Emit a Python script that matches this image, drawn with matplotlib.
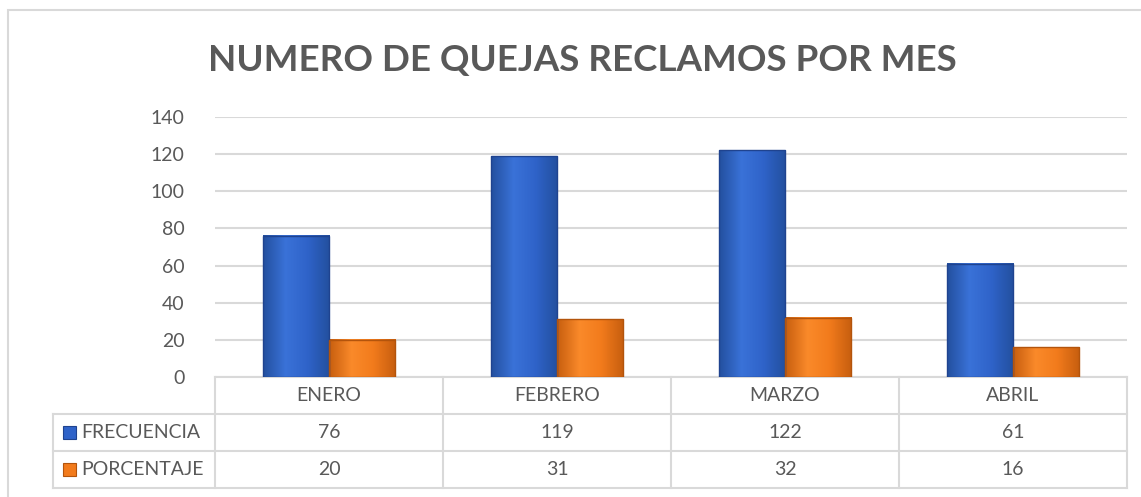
import numpy as np
import matplotlib
matplotlib.use('Agg')
import matplotlib.pyplot as plt
from matplotlib.transforms import blended_transform_factory
from matplotlib.patches import Rectangle
from matplotlib.colors import LinearSegmentedColormap

plt.rcParams['font.family'] = ['Lato', 'DejaVu Sans']

months = ['ENERO', 'FEBRERO', 'MARZO', 'ABRIL']
frecuencia = [76, 119, 122, 61]
porcentaje = [20, 31, 32, 16]
series_names = ['FRECUENCIA', 'PORCENTAJE']

W, H = 1141, 497
fig = plt.figure(figsize=(W / 100, H / 100), dpi=100)

# axes box in pixels
x0, x1 = 215, 1127
y_top, y_zero = 117, 377
ax = fig.add_axes([x0 / W, 1 - y_zero / H, (x1 - x0) / W, (y_zero - y_top) / H])

blue = '#2f63c9'
blue_edge = '#1f438f'
orange = '#f27b1c'
orange_edge = '#b3540c'
grid_c = '#d9d9d9'
text_c = '#595959'

blue_cmap = LinearSegmentedColormap.from_list('b', ['#23509f', '#3a72d8', '#2f63c9', '#23509f'])
orange_cmap = LinearSegmentedColormap.from_list('o', ['#c75e0f', '#fa8a2a', '#f27b1c', '#c75e0f'])
grad = np.linspace(0, 1, 64).reshape(1, -1)

x = np.arange(len(months))
w = 0.29
for vals, off, cmap, ec in [(frecuencia, -w / 2, blue_cmap, blue_edge),
                            (porcentaje, w / 2, orange_cmap, orange_edge)]:
    bars = ax.bar(x + off, vals, w, color='none', edgecolor=ec, linewidth=1.0, zorder=4)
    for b in bars:
        ax.imshow(grad, cmap=cmap, aspect='auto', zorder=3,
                  extent=(b.get_x(), b.get_x() + b.get_width(), 0, b.get_height()))

ax.set_xlim(-0.5, len(months) - 0.5)
ax.set_ylim(0, 140)
ax.set_yticks(np.arange(0, 141, 20))
ax.set_xticks([])
ax.yaxis.grid(True, color=grid_c, linewidth=1.5, zorder=0)
ax.set_axisbelow(True)
ax.tick_params(axis='y', length=0, pad=22, labelsize=14, labelcolor=text_c)
for s in ax.spines.values():
    s.set_visible(False)

# data table under the axes
tr = blended_transform_factory(ax.transData, ax.transAxes)
row_h = 37 / (y_zero - y_top)
left_x = -0.5 - (x0 - 53) / ((x1 - x0) / len(months))
lk = dict(color=grid_c, linewidth=1.5, transform=tr, clip_on=False)

ax.plot([-0.5, len(months) - 0.5], [0, 0], **lk)
for r in range(1, 4):
    ax.plot([left_x, len(months) - 0.5], [-r * row_h, -r * row_h], **lk)
for c in range(len(months) + 1):
    ax.plot([c - 0.5, c - 0.5], [0, -3 * row_h], **lk)
ax.plot([left_x, left_x], [-row_h, -3 * row_h], **lk)

for i, m in enumerate(months):
    ax.text(i, -0.5 * row_h, m, transform=tr, ha='center', va='center',
            fontsize=14, color=text_c)
for r, (vals, name, col, ec) in enumerate([(frecuencia, series_names[0], blue, blue_edge),
                                           (porcentaje, series_names[1], orange, orange_edge)]):
    yc = -(r + 1.5) * row_h
    for i, v in enumerate(vals):
        ax.text(i, yc, str(v), transform=tr, ha='center', va='center',
                fontsize=14, color=text_c)
    ypix = y_zero - yc * (y_zero - y_top)
    fig.patches.append(Rectangle((63 / W, (H - ypix - 6) / H), 13 / W, 13 / H,
                                 transform=fig.transFigure,
                                 facecolor=col, edgecolor=ec, linewidth=0.8))
    fig.text(81 / W, (H - ypix) / H, name, ha='left', va='center',
             fontsize=14, color=text_c)

# chart border
fig.patches.append(Rectangle((8 / W, -0.1), 1.2, 1.1 - 10 / H, transform=fig.transFigure,
                             fill=False, edgecolor=grid_c, linewidth=1.5))

fig.text(582 / W, 1 - 60 / H, 'NUMERO DE QUEJAS RECLAMOS POR MES', ha='center', va='center',
         fontsize=26.5, fontweight='bold', color=text_c)

fig.savefig('out.png', dpi=100, facecolor='white')
